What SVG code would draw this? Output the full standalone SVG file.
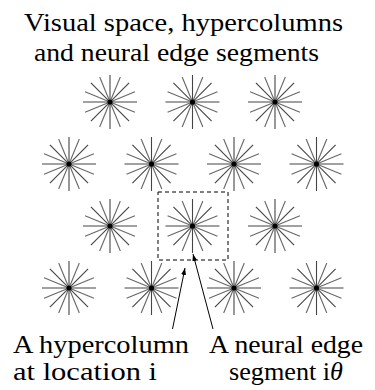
<svg xmlns="http://www.w3.org/2000/svg" xmlns:xlink="http://www.w3.org/1999/xlink" width="375" height="390" viewBox="0 0 375 390">
<style>
text{font-family:"Liberation Serif","Times New Roman",Times,Tinos,"Noto Serif","DejaVu Serif",FreeSerif,"Nimbus Roman",serif;font-size:26px;fill:#000}
.ray{stroke:#444;stroke-width:1.1;stroke-linecap:butt}
.ray2{stroke:#666;stroke-width:1.1}
.conn{stroke:#000;stroke-width:1;fill:none}
</style>
<defs>
<g id="star">
<line class="ray" x1="-27" y1="0" x2="27" y2="0"/>
<line class="ray2" x1="-24.94" y1="-10.33" x2="24.94" y2="10.33"/>
<line class="ray" x1="-19.09" y1="-19.09" x2="19.09" y2="19.09"/>
<line class="ray2" x1="-10.33" y1="-24.94" x2="10.33" y2="24.94"/>
<line class="ray" x1="0" y1="-27" x2="0" y2="27"/>
<line class="ray2" x1="10.33" y1="-24.94" x2="-10.33" y2="24.94"/>
<line class="ray" x1="19.09" y1="-19.09" x2="-19.09" y2="19.09"/>
<line class="ray2" x1="24.94" y1="-10.33" x2="-24.94" y2="10.33"/>
<circle r="2.6" fill="#000"/>
</g>
<marker id="ah" viewBox="0 0 10 10" refX="10" refY="5" markerWidth="7" markerHeight="7" markerUnits="userSpaceOnUse" orient="auto">
<path d="M0,1.5 L10,5 L0,8.5 Z" fill="#000"/>
</marker>
</defs>
<g id="title">
<text x="24" y="31" textLength="319" lengthAdjust="spacingAndGlyphs">Visual space, hypercolumns</text>
<text x="34" y="61" textLength="285" lengthAdjust="spacingAndGlyphs">and neural edge segments</text>
</g>
<g id="hc-r1c1"><use xlink:href="#star" x="110" y="102"/></g>
<g id="hc-r1c2"><use xlink:href="#star" x="192.5" y="102"/></g>
<g id="hc-r1c3"><use xlink:href="#star" x="275" y="102"/></g>
<g id="hc-r2c1"><use xlink:href="#star" x="69" y="164"/></g>
<g id="hc-r2c2"><use xlink:href="#star" x="151.5" y="164"/></g>
<g id="hc-r2c3"><use xlink:href="#star" x="234" y="164"/></g>
<g id="hc-r2c4"><use xlink:href="#star" x="316.5" y="164"/></g>
<g id="hc-r3c1"><use xlink:href="#star" x="110" y="226"/></g>
<g id="hc-r3c2"><use xlink:href="#star" x="192.5" y="226"/></g>
<g id="hc-r3c3"><use xlink:href="#star" x="275" y="226"/></g>
<g id="hc-r4c1"><use xlink:href="#star" x="69" y="288"/></g>
<g id="hc-r4c2"><use xlink:href="#star" x="151.5" y="288"/></g>
<g id="hc-r4c3"><use xlink:href="#star" x="234" y="288"/></g>
<g id="hc-r4c4"><use xlink:href="#star" x="316.5" y="288"/></g>
<g id="selection-box">
<rect x="158" y="192" width="70" height="68" fill="none" stroke="#000" stroke-width="1" stroke-dasharray="4,3"/>
</g>
<g id="connectors">
<line class="conn" x1="172.5" y1="329" x2="185" y2="268" marker-end="url(#ah)"/>
<line class="conn" x1="213" y1="329" x2="193" y2="254" marker-end="url(#ah)"/>
</g>
<g id="label-hypercolumn">
<text x="13" y="353" textLength="176" lengthAdjust="spacingAndGlyphs">A hypercolumn</text>
<text x="13" y="380" textLength="144" lengthAdjust="spacingAndGlyphs">at location i</text>
</g>
<g id="label-edge">
<text x="209" y="353" textLength="154" lengthAdjust="spacingAndGlyphs">A neural edge</text>
<text x="229" y="380" textLength="114" lengthAdjust="spacingAndGlyphs">segment i<tspan font-style="italic">θ</tspan></text>
</g>
</svg>
